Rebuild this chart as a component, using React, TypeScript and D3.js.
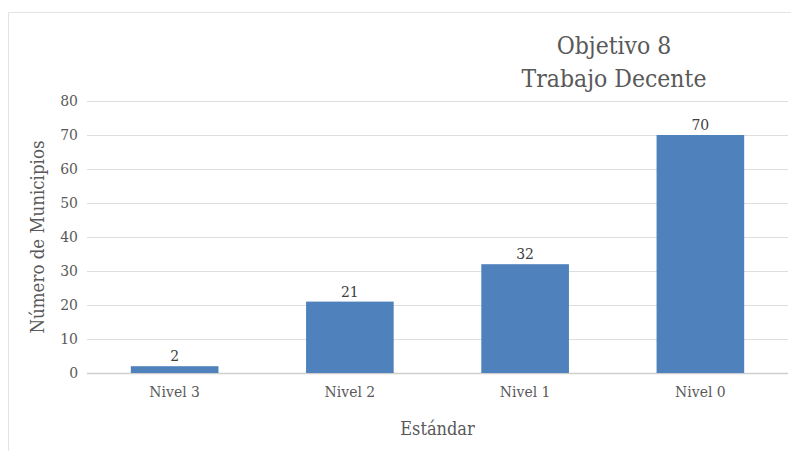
import React, { useEffect, useRef } from "react";
import * as d3 from "d3";

const niveles = ["Nivel 3", "Nivel 2", "Nivel 1", "Nivel 0"];
const municipios = [2, 21, 32, 70];
const yTicks = [0, 10, 20, 30, 40, 50, 60, 70, 80];
const tituloLineas = ["Objetivo 8", "Trabajo Decente"];

const FONT = "'DejaVu Serif Condensed', 'Liberation Serif', serif";

export default function App() {
  const ref = useRef<SVGSVGElement>(null);

  useEffect(() => {
    const svg = d3.select(ref.current);
    svg.selectAll("*").remove();

    const width = 791, height = 451;
    const margin = { top: 101, right: 3, bottom: 78, left: 87 };
    const innerW = width - margin.left - margin.right;
    const innerH = height - margin.top - margin.bottom;

    // marco del grafico
    svg.append("path")
      .attr("d", `M8.5,${height} V12.5 H${width}`)
      .attr("fill", "none")
      .attr("stroke", "#e3e3e3");

    const g = svg.append("g")
      .attr("transform", "translate(" + margin.left + "," + margin.top + ")");

    const x = d3.scaleBand()
      .domain(niveles)
      .range([0, innerW])
      .paddingInner(0.5)
      .paddingOuter(0.25);

    const y = d3.scaleLinear()
      .domain([0, 80])
      .range([innerH, 0]);

    // lineas de cuadricula
    g.selectAll(".grid")
      .data(yTicks)
      .enter()
      .append("line")
      .attr("x1", 0)
      .attr("x2", innerW)
      .attr("y1", d => Math.round(y(d)) + 0.5)
      .attr("y2", d => Math.round(y(d)) + 0.5)
      .attr("stroke", d => d === 0 ? "#cfcfcf" : "#dedede")
      .attr("stroke-width", d => d === 0 ? 1.5 : 1);

    // eje Y
    const yAxis = g.append("g")
      .call(d3.axisLeft(y).tickValues(yTicks).tickSize(0).tickPadding(9));
    yAxis.select(".domain").remove();
    yAxis.selectAll("text")
      .attr("fill", "#595959")
      .style("font-family", FONT)
      .style("font-size", "15.5px");

    // eje X
    const xAxis = g.append("g")
      .attr("transform", "translate(0," + innerH + ")")
      .call(d3.axisBottom(x).tickSize(0).tickPadding(13));
    xAxis.select(".domain").remove();
    xAxis.selectAll("text")
      .attr("fill", "#595959")
      .style("font-family", FONT)
      .style("font-size", "15.5px");

    // barras
    g.selectAll(".bar")
      .data(municipios)
      .enter()
      .append("rect")
      .attr("x", (d, i) => x(niveles[i]) as number)
      .attr("y", d => y(d))
      .attr("width", x.bandwidth())
      .attr("height", d => innerH - y(d))
      .attr("fill", "#4f81bd");

    // etiquetas de valor
    g.selectAll(".lbl")
      .data(municipios)
      .enter()
      .append("text")
      .attr("x", (d, i) => (x(niveles[i]) as number) + x.bandwidth() / 2)
      .attr("y", d => y(d) - 5)
      .attr("text-anchor", "middle")
      .attr("fill", "#404040")
      .style("font-family", FONT)
      .style("font-size", "15.5px")
      .text(d => d);

    // titulo
    svg.selectAll(".title")
      .data(tituloLineas)
      .enter()
      .append("text")
      .attr("x", 614)
      .attr("y", (d, i) => 54 + i * 33)
      .attr("text-anchor", "middle")
      .attr("fill", "#595959")
      .style("font-family", FONT)
      .style("font-size", "24.5px")
      .text(d => d);

    // titulo eje Y
    svg.append("text")
      .attr("transform", "translate(44," + (margin.top + innerH / 2) + ") rotate(-90)")
      .attr("text-anchor", "middle")
      .attr("fill", "#595959")
      .style("font-family", FONT)
      .style("font-size", "18.5px")
      .text("Número de Municipios");

    // titulo eje X
    svg.append("text")
      .attr("x", margin.left + innerW / 2)
      .attr("y", 435)
      .attr("text-anchor", "middle")
      .attr("fill", "#595959")
      .style("font-family", FONT)
      .style("font-size", "18px")
      .text("Estándar");
  }, []);

  return (
    <svg
      ref={ref}
      width={791}
      height={451}
      style={{ position: "absolute", left: 0, top: 0, background: "#fff" }}
    />
  );
}
